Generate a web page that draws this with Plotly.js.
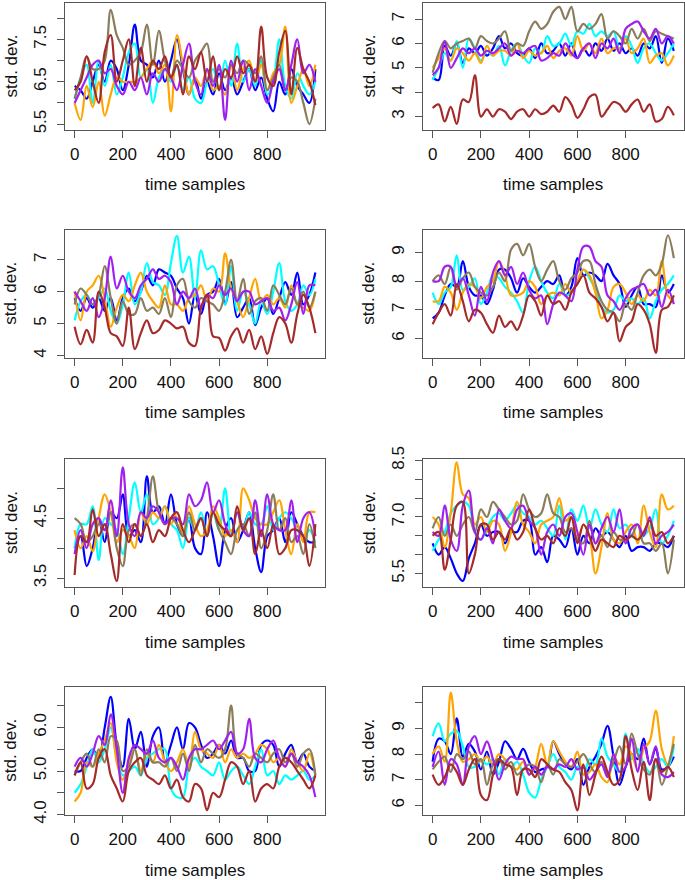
<!DOCTYPE html>
<html>
<head>
<meta charset="utf-8">
<script src="https://cdn.plot.ly/plotly-3.0.1.min.js"></script>
<style>html,body{margin:0;padding:0;background:#fff;}#chart{width:685px;height:880px;}</style>
</head>
<body>
<div id="chart"></div>
<script>
// ---------- data ----------
const timeSamples = [0,25,50,75,100,125,150,175,200,225,250,275,300,325,350,375,400,425,450,475,500,525,550,575,600,625,650,675,700,725,750,775,800,825,850,875,900,925,950,975,1000];
const seriesNames = ["blue","cyan","orange","olive","purple","brown"];
const seriesColors = ["#0000FF","#00FFFF","#FFA500","#8B7D5B","#A020F0","#A52A2A"];

// panel 1
const p1_blue   = [6.4,6.3,6.1,6.5,6.9,6.5,7.0,6.8,6.3,6.9,7.85,7.0,6.9,6.6,7.0,6.5,7.0,7.5,6.8,6.2,6.6,6.1,6.5,6.2,6.7,6.3,6.6,6.2,6.5,6.8,6.3,6.6,6.1,5.8,6.5,6.2,6.8,6.4,6.2,6.0,6.8];
const p1_cyan   = [6.1,6.6,6.9,6.0,7.0,6.4,6.9,6.2,6.6,7.2,7.4,6.6,6.8,6.0,6.6,6.8,6.5,6.9,6.3,6.6,6.1,6.0,6.5,6.8,6.3,7.0,6.4,7.4,6.5,6.8,6.4,7.0,6.2,6.5,7.5,6.4,6.1,6.7,6.4,6.2,6.5];
const p1_orange = [6.0,5.6,6.4,5.9,6.5,5.7,6.2,6.6,6.5,6.5,6.5,6.6,6.8,7.0,6.7,6.9,5.8,7.6,6.9,6.2,6.6,6.4,6.8,6.3,6.4,6.2,6.9,6.3,6.8,7.0,6.5,6.9,6.3,6.7,6.9,7.8,6.0,6.4,6.8,6.4,6.9];
const p1_olive  = [6.1,6.6,7.1,6.8,6.8,7.0,8.2,7.6,7.3,6.9,7.0,7.2,7.85,6.9,7.7,7.0,6.6,7.0,6.8,6.6,7.0,7.2,7.4,6.5,6.8,6.6,6.9,6.7,7.0,6.9,6.7,7.1,6.3,6.6,6.9,6.3,6.6,6.5,6.0,5.5,6.1];
const p1_purple = [6.0,6.3,6.6,6.9,7.0,6.7,6.8,6.4,6.2,6.5,6.3,6.6,6.2,6.7,6.5,6.8,6.6,6.3,6.9,7.4,6.5,6.2,6.8,6.4,6.9,5.6,7.0,6.5,7.0,6.3,6.8,6.4,6.0,6.5,6.8,6.3,6.9,7.5,6.7,6.9,6.5];
const p1_brown  = [6.3,6.5,7.1,6.5,6.0,7.2,7.6,6.5,7.0,7.5,6.4,7.3,6.5,7.0,6.8,7.1,6.6,6.9,6.2,7.1,6.8,7.2,6.5,7.1,6.3,6.8,6.6,7.1,6.7,6.9,6.5,7.8,6.6,6.4,7.2,7.7,6.2,7.3,6.8,6.5,5.95];

// panel 2
const p2_blue   = [4.6,4.5,5.9,5.5,6.0,5.2,5.8,5.6,5.9,5.5,5.8,6.3,5.8,6.0,5.6,5.5,5.8,5.4,6.0,5.6,5.7,6.0,5.5,6.0,5.4,5.8,5.5,6.0,5.7,6.2,5.7,6.0,5.6,5.8,5.5,6.0,5.8,6.3,5.2,6.2,5.7];
const p2_cyan   = [4.5,5.0,5.6,5.3,6.1,5.0,6.2,5.8,5.3,5.7,5.5,5.9,5.1,5.7,6.0,5.5,5.2,5.8,5.6,6.3,5.9,6.0,6.4,5.9,6.5,6.4,6.8,6.3,6.5,6.3,6.5,5.7,6.3,5.9,5.2,5.8,6.0,5.6,5.3,5.6,6.0];
const p2_orange = [5.0,5.4,5.8,5.3,5.8,5.6,5.3,5.6,5.2,5.9,5.5,5.7,5.7,5.5,6.0,5.4,5.7,5.5,5.6,5.9,5.4,5.7,5.8,5.5,6.3,5.7,6.0,5.6,6.2,5.6,5.8,5.8,6.2,5.6,5.8,6.2,5.2,5.5,5.6,5.1,5.5];
const p2_olive  = [4.8,5.6,6.1,5.8,6.0,6.1,6.2,5.8,6.3,6.1,6.0,6.2,6.5,5.7,6.0,5.9,6.5,6.9,6.6,6.8,7.3,7.5,7.0,7.5,6.5,6.8,6.6,6.8,7.2,6.2,6.5,6.3,6.0,6.6,6.2,6.6,6.1,6.5,6.4,6.3,6.2];
const p2_purple = [4.7,5.0,6.1,5.0,5.4,5.8,5.6,5.8,5.5,5.7,5.6,5.8,6.0,5.5,5.7,5.6,5.8,5.9,5.3,5.4,5.6,5.5,6.0,5.6,5.4,5.8,6.0,5.4,6.0,5.8,6.2,5.6,6.6,6.8,6.9,6.5,6.2,6.6,6.0,6.3,6.0];
const p2_brown  = [3.35,3.5,2.8,3.4,2.7,3.7,3.6,4.7,3.0,3.3,3.0,3.3,3.2,2.9,3.2,3.3,3.0,3.3,3.1,3.2,3.45,3.2,3.8,3.5,2.95,3.3,3.8,3.9,3.0,3.3,3.6,3.5,3.2,3.5,3.7,3.2,3.5,2.8,2.9,3.4,3.05];

// panel 3
const p3_blue   = [5.8,5.4,5.8,5.5,5.8,5.4,5.8,5.1,5.8,6.1,5.7,6.0,6.5,6.2,6.7,6.6,6.5,6.1,5.8,5.0,5.9,5.3,5.9,6.0,6.4,5.6,6.3,5.2,5.5,5.8,4.95,5.5,5.8,5.3,5.8,6.3,5.9,6.6,5.6,5.9,6.6];
const p3_cyan   = [5.1,5.7,5.9,5.6,5.8,6.1,5.4,5.0,5.6,6.6,5.6,6.0,6.9,6.3,6.2,5.9,6.9,7.75,6.6,7.1,5.8,7.3,6.7,6.8,6.2,5.6,6.8,5.4,6.0,5.6,5.0,5.7,5.3,6.0,6.9,5.7,5.4,5.6,6.2,5.9,6.4];
const p3_orange = [6.0,5.1,6.0,6.2,6.5,5.8,4.9,5.5,5.9,5.7,6.2,6.6,6.0,5.7,5.5,6.2,5.6,5.6,5.4,5.8,5.9,6.2,5.7,6.1,6.0,7.2,6.1,5.7,5.2,5.8,6.4,5.7,5.9,5.6,5.8,5.5,6.2,5.6,5.5,5.4,6.0];
const p3_olive  = [5.6,6.1,5.9,5.6,5.9,6.8,5.8,5.0,5.7,5.3,5.3,5.8,5.4,5.5,5.3,5.8,5.2,6.2,6.4,5.7,5.5,5.8,5.7,5.6,5.4,6.0,7.0,5.7,6.4,5.3,5.7,5.8,5.4,6.2,5.9,5.6,6.1,5.6,6.0,5.5,6.0];
const p3_purple = [6.0,5.7,5.4,5.8,5.2,5.8,7.1,6.1,6.5,6.0,5.8,6.2,6.4,6.7,6.4,6.5,6.3,5.6,6.0,5.8,6.1,5.5,5.9,5.8,6.2,5.9,6.1,5.7,6.0,6.0,5.6,5.7,5.8,5.4,5.5,5.1,5.6,6.3,5.3,6.2,6.2];
const p3_brown  = [4.9,4.35,4.8,4.4,6.0,5.5,4.7,4.6,4.3,5.5,4.2,4.7,5.1,4.7,4.8,5.1,5.0,4.85,4.9,4.4,4.3,5.5,5.9,4.6,4.55,4.15,4.6,4.85,4.4,4.8,4.2,4.6,4.05,4.7,5.2,5.0,4.4,5.3,5.9,5.5,4.7];

// panel 4
const p4_blue   = [6.7,6.9,7.5,7.9,7.8,8.7,7.8,7.5,7.5,7.2,7.7,8.4,8.4,8.1,7.6,8.1,7.8,7.6,7.8,8.0,7.9,8.2,7.5,7.8,8.8,8.2,8.3,8.2,8.0,8.6,8.2,7.9,7.1,7.5,7.8,7.2,7.2,7.1,8.2,7.6,7.9];
const p4_cyan   = [7.6,7.2,7.6,7.8,8.9,7.7,7.8,8.1,7.2,7.6,8.2,8.1,7.8,7.6,7.3,6.9,8.0,8.5,8.0,7.6,7.4,7.9,7.5,7.6,8.0,8.4,8.1,7.7,7.1,6.9,7.0,7.5,7.3,7.4,7.2,7.4,6.7,7.3,7.7,7.9,8.2];
const p4_orange = [7.3,7.3,7.8,7.6,7.0,7.6,7.9,7.8,7.4,7.8,8.0,8.7,8.2,7.5,7.5,7.6,8.0,7.8,7.2,7.5,7.6,7.5,7.9,7.6,8.0,8.4,8.2,7.6,6.7,7.0,7.8,7.9,7.6,7.2,7.5,7.3,7.7,7.5,8.7,7.5,7.3];
const p4_olive  = [8.0,8.2,7.9,8.5,7.7,8.1,8.3,7.8,7.6,7.5,7.8,8.3,8.0,9.1,9.3,8.9,9.3,8.5,8.0,8.4,8.7,8.0,7.7,8.1,8.3,8.7,8.7,7.9,7.3,7.0,6.9,6.6,7.2,7.0,7.6,8.2,8.4,8.2,8.6,9.6,8.8];
const p4_purple = [8.0,8.0,8.5,8.5,7.8,8.1,7.5,6.8,7.8,7.3,8.3,8.7,8.2,8.5,7.9,8.3,7.7,7.4,7.5,6.5,7.2,7.6,7.5,7.3,8.4,9.2,9.2,8.7,8.5,7.5,7.3,7.0,7.4,7.7,7.8,7.9,7.5,7.7,7.1,7.7,7.2];
const p4_brown  = [6.5,6.9,7.2,6.8,7.9,7.3,6.6,7.0,6.9,6.5,6.2,6.8,6.4,6.6,6.3,6.8,7.5,7.3,6.8,7.5,7.2,7.3,7.0,7.6,7.9,8.2,7.6,7.4,7.1,6.6,6.9,5.9,6.4,6.6,7.2,7.0,6.5,5.5,7.0,7.1,7.5];

// panel 5
const p5_blue   = [4.0,4.2,3.7,4.0,4.5,4.1,4.6,4.5,4.9,4.2,4.3,4.1,5.2,4.6,4.7,4.4,4.9,4.4,4.2,4.5,4.0,3.9,4.6,4.2,3.7,4.3,4.5,4.1,4.3,4.6,4.0,3.6,4.2,4.3,4.5,4.1,4.6,4.4,4.2,4.1,4.1];
const p5_cyan   = [4.0,4.4,4.4,4.7,3.8,4.5,4.4,4.3,3.9,4.5,5.1,4.6,4.9,4.4,4.5,4.7,4.4,4.3,4.0,4.5,4.3,4.6,4.2,4.6,4.3,5.0,4.2,4.6,4.3,4.6,4.4,4.4,4.7,4.3,4.5,4.6,4.5,4.3,4.2,4.3,4.1];
const p5_orange = [4.3,4.0,4.2,3.95,4.5,4.9,4.6,4.1,4.3,4.2,4.0,4.6,4.4,4.6,4.5,4.7,4.4,4.6,4.2,4.7,4.4,4.2,4.3,4.7,4.5,4.2,4.3,4.1,5.0,4.8,4.5,4.4,4.4,4.6,4.8,4.3,3.9,4.4,4.1,4.6,4.6];
const p5_olive  = [4.5,4.4,4.1,4.2,4.4,4.3,4.6,4.0,3.7,4.3,4.4,4.2,4.5,5.2,4.6,4.4,4.5,4.4,4.2,4.6,4.3,4.5,4.2,4.6,4.3,4.1,3.9,4.3,4.4,4.2,4.6,4.0,4.3,4.9,4.3,4.5,4.1,4.2,3.9,4.4,4.0];
const p5_purple = [3.9,4.3,4.0,4.4,4.5,4.3,4.8,4.2,5.35,4.4,4.2,4.6,4.5,4.7,4.6,4.4,4.5,4.5,4.4,4.9,4.7,4.8,5.1,4.6,4.8,4.4,4.2,4.6,4.3,4.2,4.8,4.2,4.9,4.4,4.3,4.3,4.8,4.1,4.5,4.6,4.2];
const p5_brown  = [3.55,4.2,4.1,4.65,4.2,4.4,3.9,3.45,4.4,4.1,4.4,4.2,4.4,4.1,4.3,4.2,4.5,4.6,4.3,4.1,4.3,4.5,4.2,4.6,4.4,4.3,4.2,4.7,4.3,4.5,3.9,4.3,4.0,4.4,3.9,4.0,4.3,4.3,4.2,3.7,4.4];

// panel 6
const p6_blue   = [6.3,6.0,6.2,5.9,5.5,5.3,5.9,6.3,6.8,6.5,6.6,6.6,6.3,6.6,6.6,6.9,6.9,6.0,6.2,5.8,6.5,6.4,6.2,6.7,6.0,6.5,6.3,6.7,6.5,6.6,6.4,6.2,6.5,6.1,6.2,6.2,6.1,6.3,6.3,6.2,6.5];
const p6_cyan   = [6.1,6.4,6.6,7.1,7.3,7.4,7.3,6.6,6.4,6.7,7.0,7.1,6.9,7.1,7.3,7.1,7.0,6.8,6.9,6.7,6.5,7.3,6.4,7.2,6.9,7.3,6.7,7.2,6.8,6.6,7.2,6.7,6.8,6.5,6.4,6.5,6.7,7.2,6.3,6.5,6.9];
const p6_orange = [7.0,6.8,6.2,7.1,8.45,7.6,7.5,6.8,7.0,6.6,6.9,6.8,6.1,6.6,7.4,6.8,6.6,6.3,6.8,6.9,7.0,7.5,6.9,7.0,6.4,6.8,6.5,5.5,6.2,7.1,6.4,6.3,6.6,6.8,6.3,7.3,6.6,6.2,7.6,7.2,7.3];
const p6_olive  = [6.7,7.0,6.5,6.8,6.5,6.8,7.0,6.6,7.2,7.0,7.4,7.2,7.0,6.8,6.9,7.6,7.2,7.0,7.1,7.6,7.1,7.0,6.6,6.7,6.4,6.3,6.9,6.3,6.5,6.2,6.6,6.4,6.4,6.5,6.8,6.3,6.3,6.1,6.3,5.5,6.4];
const p6_purple = [6.6,6.5,7.3,6.4,6.1,7.3,7.7,6.6,6.4,6.7,6.3,7.2,6.9,6.7,7.2,7.3,6.9,6.7,6.0,6.6,6.8,6.5,7.0,7.1,6.6,6.0,6.8,6.3,6.7,7.0,6.6,7.2,6.3,6.7,6.8,6.5,7.0,6.3,6.5,6.6,6.8];
const p6_brown  = [6.5,6.6,5.6,6.4,7.3,7.4,5.5,6.0,6.8,6.8,6.4,6.6,6.4,6.7,6.4,6.6,7.2,6.7,6.4,6.5,6.3,6.7,6.5,7.0,6.3,6.8,6.5,6.1,6.4,6.3,6.2,6.5,6.4,6.5,6.4,6.6,6.9,6.5,6.6,6.3,6.5];

// panel 7
const p7_blue   = [5.0,5.0,5.3,5.5,5.3,6.0,6.7,5.6,5.1,6.2,5.5,5.9,5.1,5.8,6.0,5.2,5.6,6.0,5.5,6.1,6.0,5.6,5.3,5.4,5.6,5.4,5.7,5.3,5.3,5.0,5.0,5.6,5.7,5.6,5.1,5.4,5.6,5.2,5.4,5.1,5.0];
const p7_cyan   = [4.5,4.7,5.1,5.5,5.2,5.5,6.0,5.3,4.9,5.0,5.1,4.9,5.3,5.4,5.5,5.5,4.6,4.4,4.4,5.1,5.3,5.1,5.0,4.9,5.2,4.8,5.0,5.1,4.9,4.7,5.1,5.5,4.9,5.0,4.7,4.9,4.8,4.9,5.0,4.8,4.9];
const p7_orange = [4.3,4.5,5.2,5.1,5.4,5.7,6.1,5.2,4.8,5.2,5.5,5.0,5.4,5.2,5.6,5.2,5.0,5.2,5.5,5.1,5.9,5.5,5.4,5.3,5.6,5.2,5.5,5.3,5.4,5.3,5.4,5.6,5.5,5.2,5.3,5.1,5.5,5.2,5.0,5.4,4.9];
const p7_olive  = [4.9,5.2,5.4,5.1,5.5,5.2,5.8,5.7,5.0,5.1,5.5,4.9,5.5,5.2,5.2,5.1,5.3,5.0,5.4,5.0,5.6,5.2,5.5,5.4,5.3,5.5,6.5,5.4,5.3,5.1,5.4,5.3,5.2,5.4,5.5,5.2,5.4,5.1,5.4,5.5,4.9];
const p7_purple = [5.1,5.3,5.1,5.4,5.8,5.6,6.3,5.5,4.5,5.3,5.6,5.5,5.4,5.7,5.3,5.2,5.3,5.1,4.8,5.3,5.5,5.5,5.6,5.7,5.5,5.7,5.9,5.4,5.5,6.2,5.3,5.2,5.5,5.7,5.3,5.1,5.4,5.2,5.1,4.9,4.4];
const p7_brown  = [4.9,5.2,4.6,4.7,5.3,5.5,4.9,4.6,4.3,5.0,5.2,5.3,4.9,4.8,4.7,4.9,4.6,4.8,4.4,4.3,4.7,4.6,4.1,4.5,4.4,4.8,5.2,5.1,4.7,5.0,4.3,4.6,4.7,4.6,5.1,5.3,5.2,5.0,4.8,4.6,4.9];

// panel 8
const p8_blue   = [7.7,8.6,8.5,8.0,9.4,7.9,8.4,8.1,7.4,8.1,7.2,7.7,8.5,8.2,7.8,8.2,7.7,7.3,7.4,7.5,8.5,8.0,7.6,7.4,7.8,6.8,7.5,7.9,8.4,9.1,7.9,6.8,7.5,8.0,7.8,8.6,7.6,8.2,7.4,7.5,7.9];
const p8_cyan   = [8.7,9.2,8.5,8.8,8.9,8.3,7.5,7.5,7.8,7.6,7.8,7.2,7.8,7.5,7.7,7.2,6.5,6.3,7.0,7.5,8.0,7.5,7.3,7.0,7.5,7.2,7.8,7.6,8.6,7.9,7.6,7.3,8.8,7.8,8.2,7.6,7.3,7.5,7.8,7.5,8.3];
const p8_orange = [8.0,8.3,7.7,10.4,8.5,7.7,7.8,8.0,7.7,7.9,7.6,8.0,7.8,7.5,7.4,7.7,7.2,7.5,8.4,7.6,8.5,8.1,7.7,7.5,8.1,7.2,7.3,7.6,7.1,6.9,7.9,7.6,8.3,8.0,7.4,8.2,8.5,9.7,8.2,7.6,8.7];
const p8_olive  = [7.4,7.7,7.9,7.3,8.0,7.8,8.1,7.6,7.8,6.8,7.6,7.8,7.4,7.7,7.2,7.4,7.6,7.5,6.9,7.6,7.2,7.8,7.6,7.5,7.7,8.0,7.6,7.3,7.7,7.2,7.7,8.3,7.6,8.8,8.0,7.4,7.2,7.8,6.8,7.5,8.4];
const p8_purple = [7.5,8.1,6.8,7.8,7.6,6.8,8.3,8.7,8.0,8.5,7.8,7.0,7.6,7.9,7.8,7.8,7.2,7.5,7.2,7.5,7.4,7.6,7.5,7.8,7.4,7.5,7.0,7.3,7.6,7.1,8.0,7.3,7.5,8.6,7.3,8.4,7.6,8.3,7.2,7.1,7.3];
const p8_brown  = [7.2,6.8,7.1,7.6,7.3,6.8,7.4,7.8,6.4,6.2,7.2,7.8,7.6,7.5,6.4,7.4,7.4,7.1,7.8,7.6,7.4,7.3,6.9,6.6,5.8,7.6,6.4,7.2,7.9,7.3,6.8,7.0,8.7,7.4,6.6,7.7,6.2,7.8,7.3,7.5,7.1];

// y tick values and labels per panel
const p1_ticks = [5.5,6.0,6.5,7.0,7.5,8.0]; const p1_labels = ["5.5","","6.5","","7.5",""];
const p2_ticks = [3,4,5,6,7];               const p2_labels = ["3","4","5","6","7"];
const p3_ticks = [4,5,6,7];                 const p3_labels = ["4","5","6","7"];
const p4_ticks = [6,7,8,9];                 const p4_labels = ["6","7","8","9"];
const p5_ticks = [3.5,4.0,4.5,5.0];         const p5_labels = ["3.5","","4.5",""];
const p6_ticks = [5.5,6.0,6.5,7.0,7.5,8.0,8.5]; const p6_labels = ["5.5","","","7.0","","","8.5"];
const p7_ticks = [4.0,4.5,5.0,5.5,6.0,6.5]; const p7_labels = ["4.0","","5.0","","6.0",""];
const p8_ticks = [6,7,8,9,10];              const p8_labels = ["6","7","8","9",""];
const xTicks = [0,200,400,600,800];
const xLabels = ["0","200","400","600","800"];
const xTitle = "time samples";
const yTitle = "std. dev.";

// ---------- layout ----------
const W = 685, H = 880;
const panels = [
  {series:[p1_blue,p1_cyan,p1_orange,p1_olive,p1_purple,p1_brown], ticks:p1_ticks, labels:p1_labels, yr:[5.36,8.36], col:0, row:0},
  {series:[p2_blue,p2_cyan,p2_orange,p2_olive,p2_purple,p2_brown], ticks:p2_ticks, labels:p2_labels, yr:[2.45,7.66], col:1, row:0},
  {series:[p3_blue,p3_cyan,p3_orange,p3_olive,p3_purple,p3_brown], ticks:p3_ticks, labels:p3_labels, yr:[3.92,7.95], col:0, row:1},
  {series:[p4_blue,p4_cyan,p4_orange,p4_olive,p4_purple,p4_brown], ticks:p4_ticks, labels:p4_labels, yr:[5.32,9.80], col:1, row:1},
  {series:[p5_blue,p5_cyan,p5_orange,p5_olive,p5_purple,p5_brown], ticks:p5_ticks, labels:p5_labels, yr:[3.35,5.49], col:0, row:2},
  {series:[p6_blue,p6_cyan,p6_orange,p6_olive,p6_purple,p6_brown], ticks:p6_ticks, labels:p6_labels, yr:[5.14,8.54], col:1, row:2},
  {series:[p7_blue,p7_cyan,p7_orange,p7_olive,p7_purple,p7_brown], ticks:p7_ticks, labels:p7_labels, yr:[3.99,6.94], col:0, row:3},
  {series:[p8_blue,p8_cyan,p8_orange,p8_olive,p8_purple,p8_brown], ticks:p8_ticks, labels:p8_labels, yr:[5.62,10.64], col:1, row:3}
];
const colX = [[65,325],[423,683.5]];
const rowY = [[3,130],[229.5,358],[459,587],[686.5,815]];

const FONT = "Liberation Sans, Arial, Helvetica, sans-serif";
const data = [];
const layout = {
  width: W, height: H,
  margin: {l:0,r:0,t:0,b:0},
  paper_bgcolor: "#fff", plot_bgcolor: "#fff",
  showlegend: false,
  font: {family: FONT, size: 17, color: "#111"},
  annotations: []
};

panels.forEach((p, i) => {
  const k = i + 1;
  const xa = "xaxis" + (k === 1 ? "" : k), ya = "yaxis" + (k === 1 ? "" : k);
  const xr = "x" + (k === 1 ? "" : k), yr = "y" + (k === 1 ? "" : k);
  p.series.forEach((s, j) => {
    data.push({
      x: timeSamples, y: s, xaxis: xr, yaxis: yr,
      type: "scatter", mode: "lines", name: seriesNames[j],
      line: {color: seriesColors[j], width: 2.2, shape: "spline", smoothing: 1},
      hoverinfo: "skip"
    });
  });
  const [x0, x1] = colX[p.col];
  const [y0, y1] = rowY[p.row];
  const common = {
    showline: true, mirror: true, linecolor: "#555", linewidth: 1,
    ticks: "outside", ticklen: 7, tickwidth: 1, tickcolor: "#555",
    showgrid: false, zeroline: false, fixedrange: true,
    tickfont: {family: FONT, size: 17, color: "#111"}
  };
  layout[xa] = Object.assign({}, common, {
    domain: [x0 / W, x1 / W], range: [-40, 1040], anchor: yr,
    tickmode: "array", tickvals: xTicks, ticktext: xLabels, ticklabelstandoff: 2
  });
  layout[ya] = Object.assign({}, common, {
    domain: [1 - y1 / H, 1 - y0 / H], range: p.yr, anchor: xr,
    tickmode: "array", tickvals: p.ticks, ticktext: p.labels, tickangle: -90, ticklabelstandoff: 4
  });
  layout.annotations.push({
    text: xTitle, xref: "paper", yref: "paper", showarrow: false,
    x: ((x0 + x1) / 2) / W, y: 1 - (y1 + 55) / H, xanchor: "center", yanchor: "middle",
    font: {family: FONT, size: 17, color: "#111"}
  });
  layout.annotations.push({
    text: yTitle, xref: "paper", yref: "paper", showarrow: false, textangle: -90,
    x: (x0 - 54) / W, y: 1 - ((y0 + y1) / 2) / H, xanchor: "center", yanchor: "middle",
    font: {family: FONT, size: 17, color: "#111"}
  });
});

Plotly.newPlot("chart", data, layout, {staticPlot: true, displayModeBar: false});
</script>
</body>
</html>
